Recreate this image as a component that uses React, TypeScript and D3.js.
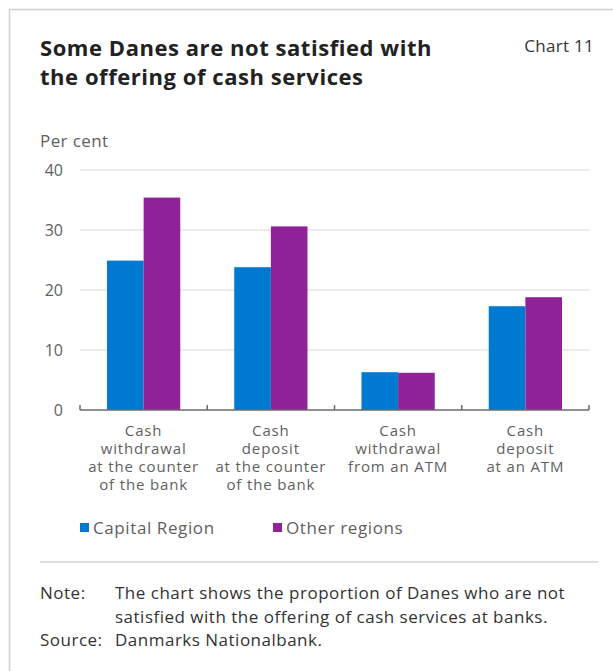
import React from "react";
import * as d3 from "d3";

const categories = [
  ["Cash", "withdrawal", "at the counter", "of the bank"],
  ["Cash", "deposit", "at the counter", "of the bank"],
  ["Cash", "withdrawal", "from an ATM"],
  ["Cash", "deposit", "at an ATM"],
];
const seriesNames = ["Capital Region", "Other regions"];
const capitalRegion = [24.9, 23.8, 6.3, 17.3];
const otherRegions = [35.4, 30.6, 6.2, 18.8];
const yTicks = [0, 10, 20, 30, 40];
const colors = ["#0079d1", "#8f2297"];

const W = 613;
const H = 671;
const FONT = "'Open Sans', 'Noto Sans', sans-serif";

export default function App() {
  const x0 = d3.scaleBand<number>().domain(d3.range(categories.length)).range([80, 589]).paddingInner(0).paddingOuter(0);
  const y = d3.scaleLinear().domain([0, 40]).range([410, 170]);
  const groupPad = 27;
  const x1 = d3.scaleBand<number>().domain([0, 1]).range([groupPad, x0.bandwidth() - groupPad]).padding(0);
  const series = [capitalRegion, otherRegions];
  const textColor = "#5f5f5f";

  return (
    <svg width={W} height={H} style={{ position: "absolute", left: 0, top: 0 }}>
      <rect x={0} y={0} width={W} height={H} fill="#fff" />
      <path d={`M9.5,${H} L9.5,9.5 L${W},9.5`} fill="none" stroke="#cfcfcf" strokeWidth={1.5} />
      <text x={40} y={56} fontFamily={FONT} fontWeight={700} fontSize={22} letterSpacing={0.55} fill="#222">
        Some Danes are not satisfied with
      </text>
      <text x={40} y={85} fontFamily={FONT} fontWeight={700} fontSize={22} letterSpacing={0.55} fill="#222">
        the offering of cash services
      </text>
      <text x={594} y={52} textAnchor="end" fontFamily={FONT} fontSize={17} letterSpacing={0.3} fill="#333">
        Chart 11
      </text>
      <text x={40} y={147} fontFamily={FONT} fontSize={17} letterSpacing={0.4} fill={textColor}>
        Per cent
      </text>
      {yTicks.map((t) => (
        <g key={t}>
          {t > 0 && (
            <line x1={80} x2={589} y1={y(t)} y2={y(t)} stroke="#d6d6d6" strokeWidth={1} />
          )}
          <text x={63} y={y(t)} dy="0.35em" textAnchor="end" fontFamily={FONT} fontSize={16} fill={textColor}>
            {t}
          </text>
        </g>
      ))}
      {categories.map((c, i) =>
        series.map((s, j) => (
          <rect
            key={`${i}-${j}`}
            x={(x0(i) as number) + (x1(j) as number)}
            y={y(s[i])}
            width={x1.bandwidth()}
            height={y(0) - y(s[i])}
            fill={colors[j]}
          />
        ))
      )}
      <line x1={80} x2={589} y1={410} y2={410} stroke="#6b6b6b" strokeWidth={1.5} />
      {d3.range(categories.length + 1).map((i) => {
        const xx = i < categories.length ? (x0(i) as number) : 589;
        return <line key={i} x1={xx} x2={xx} y1={405} y2={410} stroke="#6b6b6b" strokeWidth={1.5} />;
      })}
      {categories.map((c, i) => (
        <text
          key={i}
          x={(x0(i) as number) + x0.bandwidth() / 2}
          y={435.5}
          textAnchor="middle"
          fontFamily={FONT}
          fontSize={15}
          letterSpacing={0.85}
          fill={textColor}
        >
          {c.map((line, k) => (
            <tspan key={k} x={(x0(i) as number) + x0.bandwidth() / 2} dy={k === 0 ? 0 : 18.2}>
              {line}
            </tspan>
          ))}
        </text>
      ))}
      {seriesNames.map((n, j) => {
        const lx = [80, 273][j];
        return (
          <g key={n}>
            <rect x={lx} y={523} width={9} height={9} fill={colors[j]} />
            <text x={lx + 13} y={528} dy="0.35em" fontFamily={FONT} fontSize={17} letterSpacing={0.6} fill={textColor}>
              {n}
            </text>
          </g>
        );
      })}
      <line x1={40} x2={598} y1={562} y2={562} stroke="#bdbdbd" strokeWidth={1} />
      <text x={40} y={598.5} fontFamily={FONT} fontSize={17} letterSpacing={0.5} fill="#333">Note:</text>
      <text x={115} y={598.5} fontFamily={FONT} fontSize={17} letterSpacing={0.5} fill="#333">
        The chart shows the proportion of Danes who are not
      </text>
      <text x={115} y={622.5} fontFamily={FONT} fontSize={17} letterSpacing={0.5} fill="#333">
        satisfied with the offering of cash services at banks.
      </text>
      <text x={40} y={645.5} fontFamily={FONT} fontSize={17} letterSpacing={0.5} fill="#333">Source:</text>
      <text x={115} y={645.5} fontFamily={FONT} fontSize={17} letterSpacing={0.5} fill="#333">Danmarks Nationalbank.</text>
    </svg>
  );
}
